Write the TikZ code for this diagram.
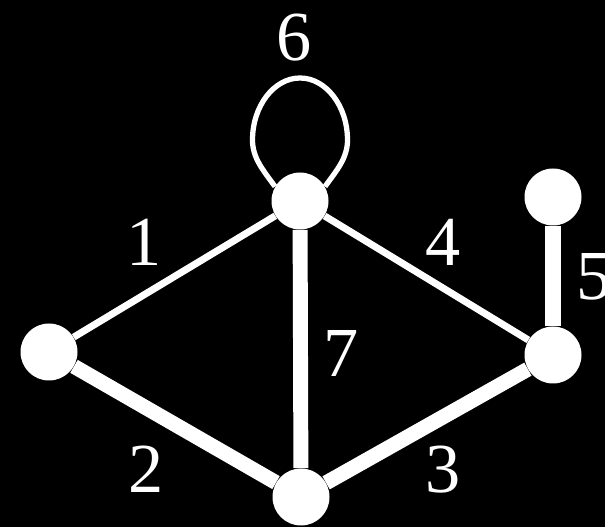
\documentclass[tikz,border=0pt]{standalone}
\usepackage{fontspec}
\setmainfont{Liberation Serif}
\usetikzlibrary{positioning}

\begin{document}
\begin{tikzpicture}[
    vert/.style={circle, fill=white, minimum size=11.4mm, inner sep=0pt},
    lbl/.style={text=white, inner sep=0pt, font=\fontsize{40}{44}\selectfont},
    heavy/.style={draw=white, line width=8.5pt},
    light/.style={draw=white, line width=4pt}]
  \useasboundingbox (0,0) rectangle (12.1,10.54);
  \fill[black] (0,0) rectangle (12.1,10.54);
  % vertices
  \node[vert] (top) at (6.00,6.52) {};
  \node[vert] (left) at (0.98,3.50) {};
  \node[vert] (right) at (11.06,3.44) {};
  \node[vert] (bot) at (6.02,0.60) {};
  \node[vert] (leaf) at (11.06,6.60) {};
  % edges
  \path[light] (top) -- (left);
  \path[heavy] (left) -- (bot);
  \path[heavy] (bot) -- (right);
  \path[light] (top) -- (right);
  \path[heavy, line width=9.5pt] (right) -- (leaf);
  \path[heavy] (top) -- (bot);
  % self loop
  \draw[white, line width=3pt] (top.150)
    .. controls (5.26,7.14) and (5.05,7.38) .. (5.05,7.74)
    .. controls (5.05,8.42) and (5.48,8.98) .. (6.00,8.98)
    .. controls (6.52,8.98) and (6.95,8.42) .. (6.95,7.74)
    .. controls (6.95,7.38) and (6.74,7.14) .. (top.30);
  % edge numbers
  \node[lbl] (l1) at (2.88,5.70) {1};
  \node[lbl] (l2) at (2.92,1.16) {2};
  \node[lbl] (l3) at (8.86,1.14) {3};
  \node[lbl] (l4) at (8.86,5.70) {4};
  \node[lbl] (l5) at (11.88,5.00) {5};
  \node[lbl] (l6) at (5.88,9.78) {6};
  \node[lbl] (l7) at (6.82,3.48) {7};
\end{tikzpicture}
\end{document}
